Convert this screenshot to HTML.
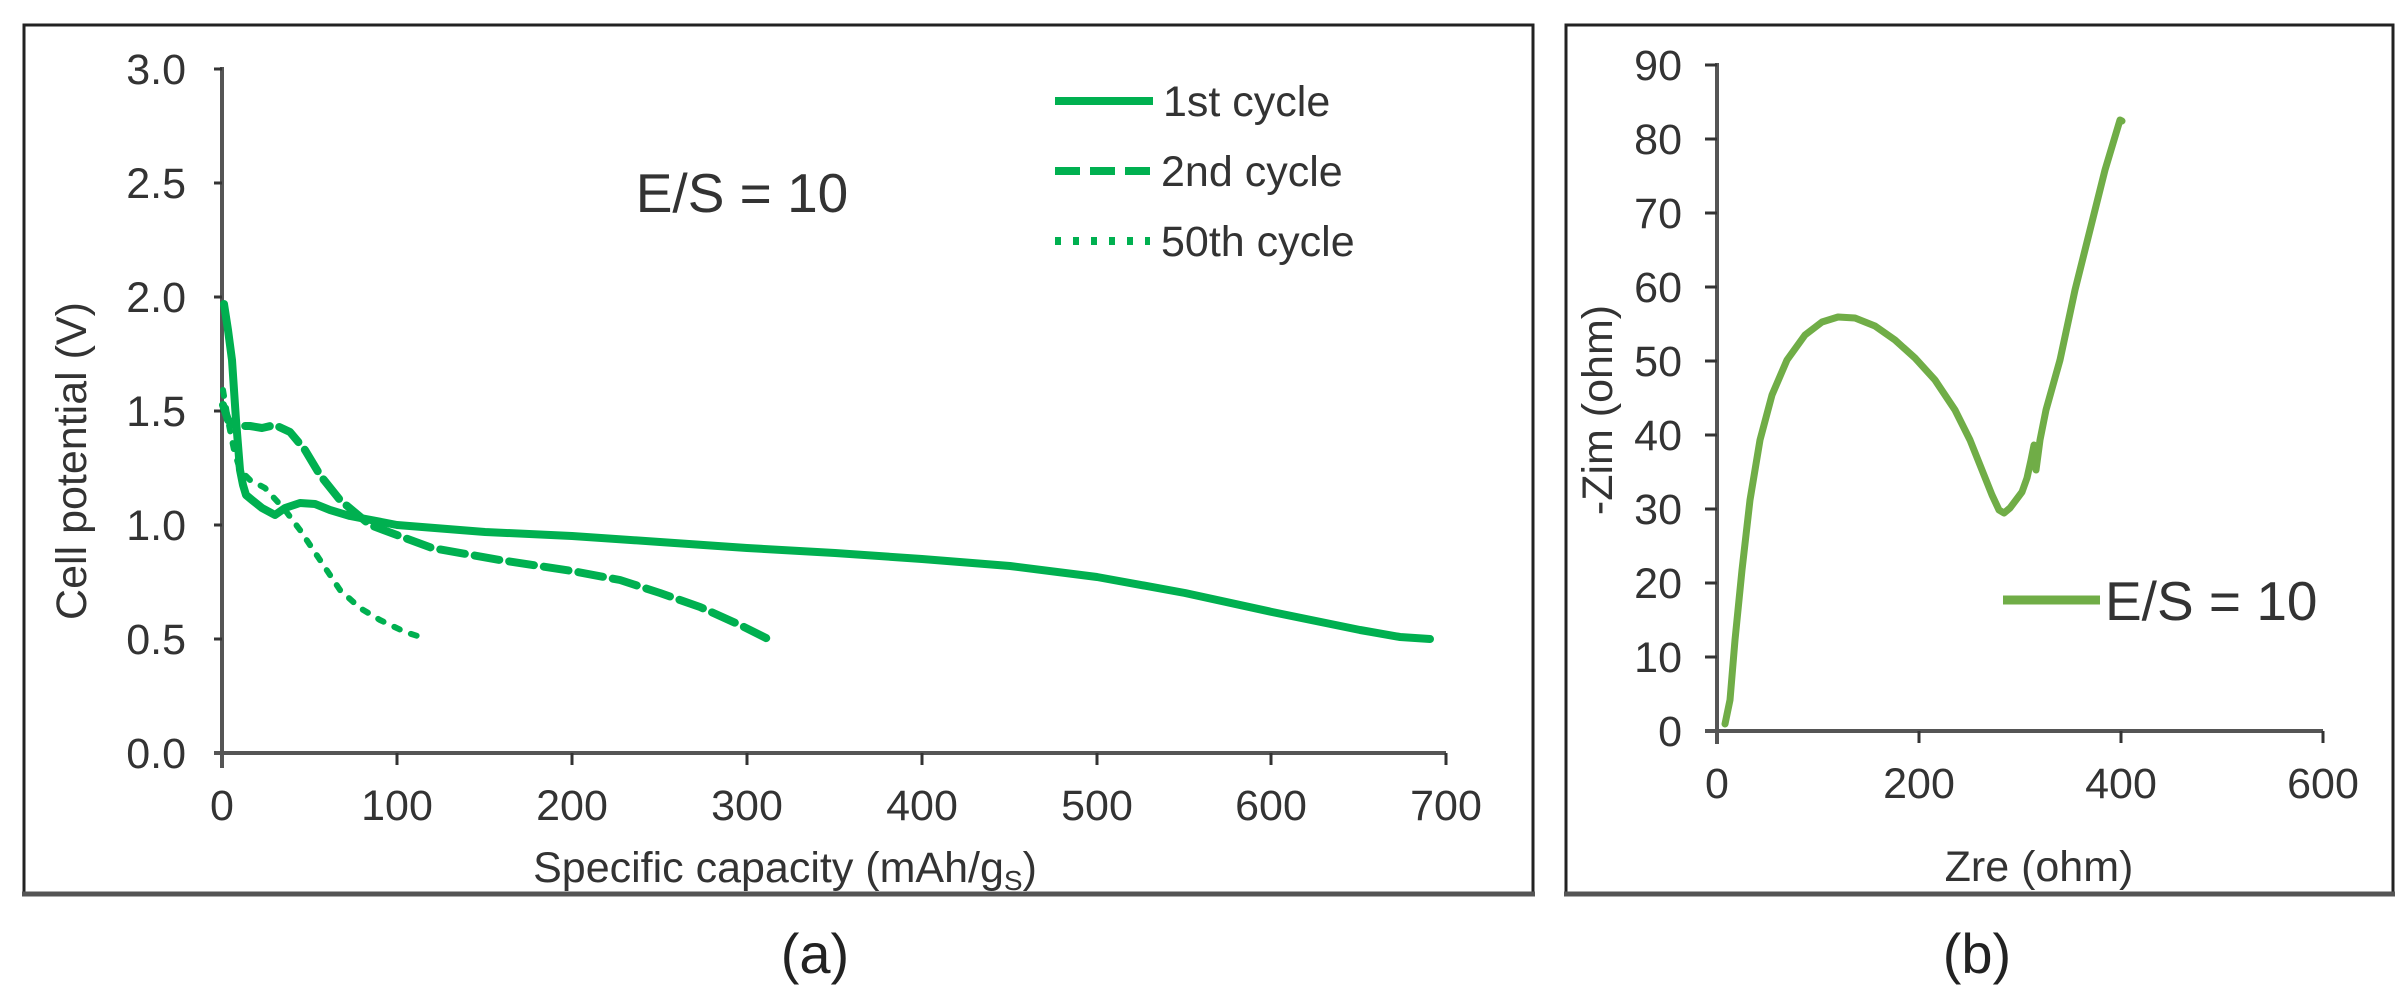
<!DOCTYPE html>
<html><head><style>
html,body{margin:0;padding:0;background:#fff;}
svg{display:block;font-family:"Liberation Sans",Arial,sans-serif;}
</style></head><body>
<svg width="2400" height="999" viewBox="0 0 2400 999" xmlns="http://www.w3.org/2000/svg">
<rect x="0" y="0" width="2400" height="999" fill="#fff"/>
<rect x="24" y="25" width="1509" height="869" fill="none" stroke="#222" stroke-width="3"/>
<line x1="22" y1="894" x2="1535" y2="894" stroke="#555" stroke-width="5"/>
<rect x="1566" y="25" width="827" height="869" fill="none" stroke="#222" stroke-width="3"/>
<line x1="1564" y1="894" x2="2395" y2="894" stroke="#555" stroke-width="5"/>

<g stroke="#555" stroke-width="4" fill="none">
<line x1="222" y1="67" x2="222" y2="768"/>
<line x1="214" y1="753" x2="1446" y2="753"/>
</g>
<g stroke="#333" stroke-width="3">
<line x1="214" y1="69" x2="222" y2="69"/>
<line x1="214" y1="183" x2="222" y2="183"/>
<line x1="214" y1="297" x2="222" y2="297"/>
<line x1="214" y1="411" x2="222" y2="411"/>
<line x1="214" y1="525" x2="222" y2="525"/>
<line x1="214" y1="639" x2="222" y2="639"/>
<line x1="397" y1="753" x2="397" y2="765"/>
<line x1="572" y1="753" x2="572" y2="765"/>
<line x1="747" y1="753" x2="747" y2="765"/>
<line x1="922" y1="753" x2="922" y2="765"/>
<line x1="1097" y1="753" x2="1097" y2="765"/>
<line x1="1271" y1="753" x2="1271" y2="765"/>
<line x1="1446" y1="753" x2="1446" y2="765"/>
</g>
<g font-size="43" fill="#333" text-anchor="end">
<text x="186" y="84">3.0</text>
<text x="186" y="198">2.5</text>
<text x="186" y="312">2.0</text>
<text x="186" y="426">1.5</text>
<text x="186" y="540">1.0</text>
<text x="186" y="654">0.5</text>
<text x="186" y="768">0.0</text>
</g>
<g font-size="43" fill="#333" text-anchor="middle">
<text x="222" y="820">0</text>
<text x="397" y="820">100</text>
<text x="572" y="820">200</text>
<text x="747" y="820">300</text>
<text x="922" y="820">400</text>
<text x="1097" y="820">500</text>
<text x="1271" y="820">600</text>
<text x="1446" y="820">700</text>
<text x="785" y="882">Specific capacity (mAh/g<tspan font-size="28" dy="8">S</tspan><tspan dy="-8">)</tspan></text>
<text transform="translate(86,461) rotate(-90)">Cell potential (V)</text>
<text x="742" y="212" font-size="55">E/S = 10</text>
</g>
<g stroke="#00b050" stroke-width="8" fill="none">
<line x1="1055" y1="101" x2="1153" y2="101"/>
<line x1="1055" y1="171" x2="1150" y2="171" stroke-dasharray="25,10"/>
<line x1="1055" y1="241" x2="1150" y2="241" stroke-dasharray="6,12"/>
</g>
<g font-size="43" fill="#333">
<text x="1163" y="116">1st cycle</text>
<text x="1161" y="186">2nd cycle</text>
<text x="1161" y="256">50th cycle</text>
</g>
<g fill="none" stroke="#00b050" stroke-linejoin="round" stroke-linecap="round">
<path stroke-width="8" d="M224,304 L228,330 L232,360 L236,420 L240,470 L243,485 L246,495 L252,500 L262,508 L275,515 L285,508 L300,503 L315,504 L330,510 L350,516 L397,525 L485,532 L572,536 L660,542 L747,548 L835,553 L922,559 L1010,566 L1097,577 L1185,593 L1272,612 L1360,630 L1400,637 L1430,639"/>
<path stroke-width="8" stroke-dasharray="25,10" d="M223,405 L228,420 L236,426 L250,426 L262,428 L275,425 L290,432 L305,450 L320,475 L340,500 L370,525 L432,548 L500,560 L572,571 L620,580 L660,593 L700,607 L740,625 L768,639"/>
<path stroke-width="6" stroke-dasharray="6,12" d="M223,390 L228,420 L234,450 L240,470 L250,480 L265,488 L285,510 L300,530 L320,560 L340,590 L360,608 L380,620 L405,632 L427,639"/>
</g>

<g stroke="#555" stroke-width="4" fill="none">
<line x1="1717" y1="63" x2="1717" y2="744"/>
<line x1="1705" y1="731" x2="2323" y2="731"/>
</g>
<g stroke="#333" stroke-width="3">
<line x1="1705" y1="65" x2="1717" y2="65"/>
<line x1="1705" y1="139" x2="1717" y2="139"/>
<line x1="1705" y1="213" x2="1717" y2="213"/>
<line x1="1705" y1="287" x2="1717" y2="287"/>
<line x1="1705" y1="361" x2="1717" y2="361"/>
<line x1="1705" y1="435" x2="1717" y2="435"/>
<line x1="1705" y1="509" x2="1717" y2="509"/>
<line x1="1705" y1="583" x2="1717" y2="583"/>
<line x1="1705" y1="657" x2="1717" y2="657"/>
<line x1="1919" y1="731" x2="1919" y2="743"/>
<line x1="2121" y1="731" x2="2121" y2="743"/>
<line x1="2323" y1="731" x2="2323" y2="743"/>
</g>
<g font-size="43" fill="#333" text-anchor="end">
<text x="1682" y="80">90</text>
<text x="1682" y="154">80</text>
<text x="1682" y="228">70</text>
<text x="1682" y="302">60</text>
<text x="1682" y="376">50</text>
<text x="1682" y="450">40</text>
<text x="1682" y="524">30</text>
<text x="1682" y="598">20</text>
<text x="1682" y="672">10</text>
<text x="1682" y="746">0</text>
</g>
<g font-size="43" fill="#333" text-anchor="middle">
<text x="1717" y="798">0</text>
<text x="1919" y="798">200</text>
<text x="2121" y="798">400</text>
<text x="2323" y="798">600</text>
<text x="2039" y="881">Zre (ohm)</text>
<text transform="translate(1612,410) rotate(-90)">-Zim (ohm)</text>
</g>
<path fill="none" stroke="#70ad47" stroke-width="7" stroke-linejoin="round" stroke-linecap="round"
 d="M1725,724 L1730,700 L1735,640 L1742,570 L1750,500 L1760,440 L1772,395 L1787,360 L1805,335 L1822,322 L1838,317 L1855,318 L1875,326 L1895,340 L1915,358 L1935,380 L1955,410 L1970,440 L1982,470 L1992,495 L1999,510 L2004,513 L2010,508 L2016,500 L2022,492 L2027,478 L2031,460 L2034,445 L2036,470 L2040,440 L2046,410 L2060,360 L2075,290 L2090,230 L2105,170 L2120,120 L2122,121"/>
<line x1="2003" y1="600" x2="2100" y2="600" stroke="#70ad47" stroke-width="9"/>
<text x="2105" y="620" font-size="55" fill="#333">E/S = 10</text>

<g font-size="56" fill="#222" text-anchor="middle">
<text x="815" y="973">(a)</text>
<text x="1977" y="973">(b)</text>
</g>
</svg>
</body></html>
